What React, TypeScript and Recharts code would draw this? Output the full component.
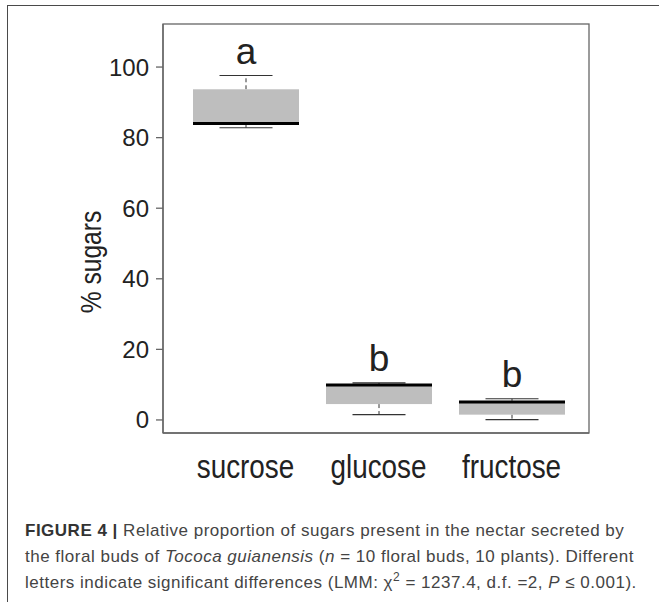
import { ComposedChart, Bar, XAxis, YAxis } from 'recharts';

const categories = ['sucrose', 'glucose', 'fructose'];
const lowerWhisker = [82.8, 1.5, 0.1];
const lowerQuartile = [83.6, 4.5, 1.5];
const medians = [84.0, 9.9, 5.1];
const upperQuartile = [93.7, 10.1, 5.4];
const upperWhisker = [97.6, 10.5, 6.0];
const letters = ['a', 'b', 'b'];
const yTicks = [0, 20, 40, 60, 80, 100];
const yDomain: [number, number] = [-3.7, 112.2];

const rows = categories.map((name, i) => ({
  name,
  lo: lowerWhisker[i],
  q1: lowerQuartile[i],
  med: medians[i],
  q3: upperQuartile[i],
  hi: upperWhisker[i],
  letter: letters[i],
}));

const sans = "'Liberation Sans', Arial, sans-serif";
const frame = '#666';

const W = 659;
const H = 500;
const margin = { top: 24, right: 70, bottom: 20, left: 0 };
const yAxisWidth = 163;
const xAxisHeight = 47;

function BoxShape(props: any) {
  const { x, y, width, height, payload } = props;
  const top = Math.min(y, y + height);
  const h = Math.abs(height);
  const { lo, q1, med, q3, hi, letter } = payload;
  // linear map from value to pixel, anchored on the bar's own range
  const px = (v: number) => top + ((hi - v) / (hi - lo)) * h;
  const cx = x + width / 2;
  const cap = width / 4;
  return (
    <g>
      <line x1={cx} x2={cx} y1={px(q3)} y2={px(hi)} stroke="#333" strokeWidth={1} strokeDasharray="4 3" />
      <line x1={cx} x2={cx} y1={px(q1)} y2={px(lo)} stroke="#333" strokeWidth={1} strokeDasharray="4 3" />
      <line x1={cx - cap} x2={cx + cap} y1={px(hi)} y2={px(hi)} stroke="#333" strokeWidth={1.2} />
      <line x1={cx - cap} x2={cx + cap} y1={px(lo)} y2={px(lo)} stroke="#333" strokeWidth={1.2} />
      <rect x={x} y={px(q3)} width={width} height={px(q1) - px(q3)} fill="#bebebe" />
      <line x1={x} x2={x + width} y1={px(med)} y2={px(med)} stroke="#000" strokeWidth={3} />
      <text x={cx} y={px(hi) - 12} textAnchor="middle" fontSize={37} fontFamily={sans} fill="#222">
        {letter}
      </text>
    </g>
  );
}

// the reference uses a condensed face; squeeze the regular one horizontally
function XTick(props: any) {
  const { x, y, payload } = props;
  return (
    <text
      transform={`translate(${x},${y + 43}) scale(0.82,1)`}
      textAnchor="middle"
      fontSize={34}
      fontFamily={sans}
      fill="#222"
    >
      {payload.value}
    </text>
  );
}

function YLabel() {
  return (
    <text
      transform="translate(101,262) rotate(-90) scale(0.82,1)"
      textAnchor="middle"
      fontSize={30}
      fontFamily={sans}
      fill="#222"
    >
      % sugars
    </text>
  );
}

export default function App() {
  const plotLeft = margin.left + yAxisWidth;
  const plotTop = margin.top;
  const plotW = W - margin.right - plotLeft;
  const plotH = H - margin.top - margin.bottom - xAxisHeight;
  return (
    <div style={{ position: 'absolute', left: 0, top: 0, width: 659, height: 602, background: '#fff' }}>
      <div
        style={{
          position: 'absolute',
          left: 7,
          top: 5,
          width: 652,
          height: 597,
          borderTop: '1.5px solid #4a4a4a',
          borderLeft: '1.5px solid #4a4a4a',
        }}
      />
      <div style={{ position: 'absolute', left: 0, top: 0 }}>
        <ComposedChart width={W} height={H} data={rows} margin={margin}>
          <XAxis
            dataKey="name"
            height={xAxisHeight}
            padding={{ left: 16, right: 11 }}
            tickLine={false}
            tickSize={0}
            tick={<XTick />}
            axisLine={{ stroke: frame, strokeWidth: 1.3 }}
            interval={0}
          />
          <YAxis
            width={yAxisWidth}
            domain={yDomain}
            ticks={yTicks}
            allowDataOverflow
            tickSize={7}
            tickMargin={7}
            tickLine={{ stroke: frame, strokeWidth: 1.3 }}
            axisLine={{ stroke: frame, strokeWidth: 1.3 }}
            tick={{ fontSize: 24, fontFamily: sans, fill: '#222' }}
            label={<YLabel />}
          />
          <Bar
            dataKey={(d: any) => [d.lo, d.hi]}
            barSize={106}
            shape={<BoxShape />}
            isAnimationActive={false}
          />
        </ComposedChart>
      </div>
      {/* box round the plotting region, as in base R */}
      <svg style={{ position: 'absolute', left: 0, top: 0, pointerEvents: 'none' }} width={W} height={H}>
        <rect x={plotLeft} y={plotTop} width={plotW} height={plotH} fill="none" stroke={frame} strokeWidth={1.3} />
      </svg>
      <div
        style={{
          position: 'absolute',
          left: 25,
          top: 518,
          fontFamily: sans,
          fontSize: 17,
          letterSpacing: '0.5px',
          lineHeight: '26px',
          color: '#444',
          whiteSpace: 'nowrap',
        }}
      >
        <b style={{ color: '#333' }}>FIGURE 4 |</b> Relative proportion of sugars present in the nectar secreted by
        <br />
        the floral buds of <i>Tococa guianensis</i> (<i>n</i> = 10 floral buds, 10 plants). Different
        <br />
        letters indicate significant differences (LMM: χ
        <span style={{ fontSize: 12, position: 'relative', top: -7, lineHeight: 0 }}>2</span> = 1237.4, d.f. =2,{' '}
        <i>P</i> ≤ 0.001).
      </div>
    </div>
  );
}
